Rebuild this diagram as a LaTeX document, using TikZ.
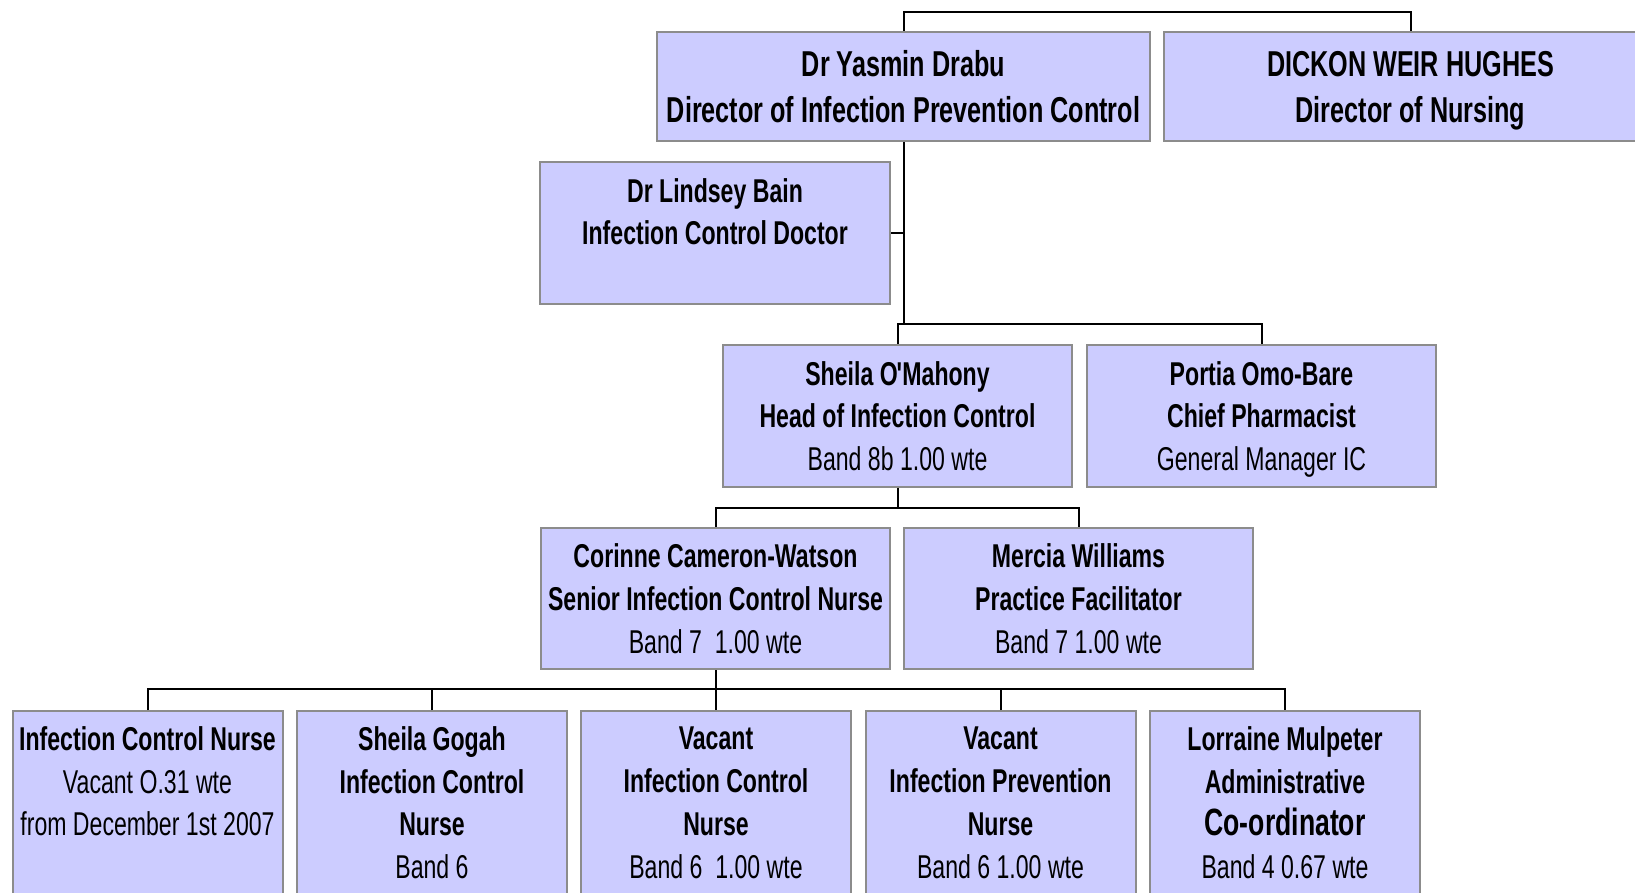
\documentclass[tikz,border=0pt]{standalone}
\usepackage{fontspec}
\setmainfont{Liberation Sans}[FakeStretch=0.7]
\usepackage{tikz}
\definecolor{boxfill}{HTML}{CCCCFF}
\definecolor{boxline}{HTML}{8C8C8C}
\tikzset{
  orgbox/.style={draw=boxline, fill=boxfill, line width=1pt, align=center,
    inner sep=0pt, text depth=0pt, font=\fontsize{16.5}{21.4}\selectfont},
  topbox/.style={orgbox, minimum width=246.5pt, minimum height=54.5pt,
    font=\fontsize{18}{23}\selectfont},
  midbox/.style={orgbox, minimum width=174.5pt, minimum height=71pt},
  lowbox/.style={orgbox, minimum width=135pt, minimum height=113pt},
  link/.style={line width=1pt, black}
}
\begin{document}
\begin{tikzpicture}[x=0.5pt, y=-0.5pt]
			%%%%% frame
			\useasboundingbox (0, 0) rectangle (1635, 893);
			\clip (0, 0) rectangle (1635, 893);
			
			%%%%% directors
			\node[topbox] (yasmin) at (903.5, 86.5) {\textbf{Dr Yasmin Drabu}\\\textbf{Director of Infection Prevention Control}};
			\node[topbox] (dickon) at (1410.5, 86.5) {\textbf{DICKON WEIR HUGHES}\\\textbf{Director of Nursing}};
			
			\node[midbox, minimum width=175pt] (lindsey) at (715, 233) {\textbf{Dr Lindsey Bain}\\\textbf{Infection Control Doctor}\\~};
			
			%%%%% heads
			\node[midbox] (sheila) at (897.5, 416) {\textbf{Sheila O\kern-0.6pt\textquotesingle\kern-1pt Mahony}\\\textbf{Head of Infection Control}\\Band 8b 1.00 wte};
			\node[midbox] (portia) at (1261.5, 416) {\textbf{Portia Omo-Bare}\\\textbf{Chief Pharmacist}\\General Manager IC};
			
			\node[midbox, minimum height=70.5pt] (corinne) at (715.5, 598.5) {\textbf{Corinne Cameron-Watson}\\\textbf{Senior Infection Control Nurse}\\Band 7\ \ 1.00 wte};
			\node[midbox, minimum height=70.5pt] (mercia) at (1078.5, 598.5) {\textbf{Mercia Williams}\\\textbf{Practice Facilitator}\\Band 7 1.00 wte};
			
			%%%%% nurses
			\node[lowbox] (icnvacant) at (147.5, 824) {\textbf{Infection Control Nurse}\\Vacant O.31 wte\\from December 1st 2007\\~\\~};
			\node[lowbox] (gogah) at (432, 824) {\textbf{Sheila Gogah}\\\textbf{Infection Control}\\\textbf{Nurse}\\Band 6\\~};
			\node[lowbox] (icnpost) at (716, 824) {\textbf{Vacant}\\\textbf{Infection Control}\\\textbf{Nurse}\\Band 6\ \ 1.00 wte\\~};
			\node[lowbox] (ipnpost) at (1000.5, 824) {\textbf{Vacant}\\\textbf{Infection Prevention}\\\textbf{Nurse}\\Band 6 1.00 wte\\~};
			\node[lowbox] (lorraine) at (1285, 824) {\textbf{Lorraine Mulpeter}\\\textbf{Administrative}\\{\fontsize{19}{21.4}\selectfont\textbf{Co-ordinator}}\\Band 4 0.67 wte\\~};
			
			%%%%% links
			\coordinate (bartop) at ([yshift=9.25pt]yasmin.north);
			\draw[link] (yasmin.north) -- (bartop) -| (dickon.north);
			
			\coordinate (barheads) at ([yshift=10pt]sheila.north);
			\draw[link] (sheila.north) -- (barheads) -| (portia.north);
			\draw[link] (yasmin.south) -- (yasmin.south |- barheads);
			\draw[link] (lindsey.east) -- (lindsey.east -| yasmin.south);
			
			\coordinate (barsenior) at ([yshift=9.5pt]corinne.north);
			\draw[link] (corinne.north) -- (barsenior) -| (mercia.north);
			\draw[link] (sheila.south) -- (sheila.south |- barsenior);
			
			\coordinate (barnurses) at ([yshift=10.5pt]icnvacant.north);
			\draw[link] (icnvacant.north) -- (barnurses) -| (lorraine.north);
			\draw[link] (gogah.north) -- (gogah.north |- barnurses);
			\draw[link] (ipnpost.north) -- (ipnpost.north |- barnurses);
			\draw[link] (corinne.south) -- (corinne.south |- icnpost.north);
			
		\end{tikzpicture}
\end{document}
